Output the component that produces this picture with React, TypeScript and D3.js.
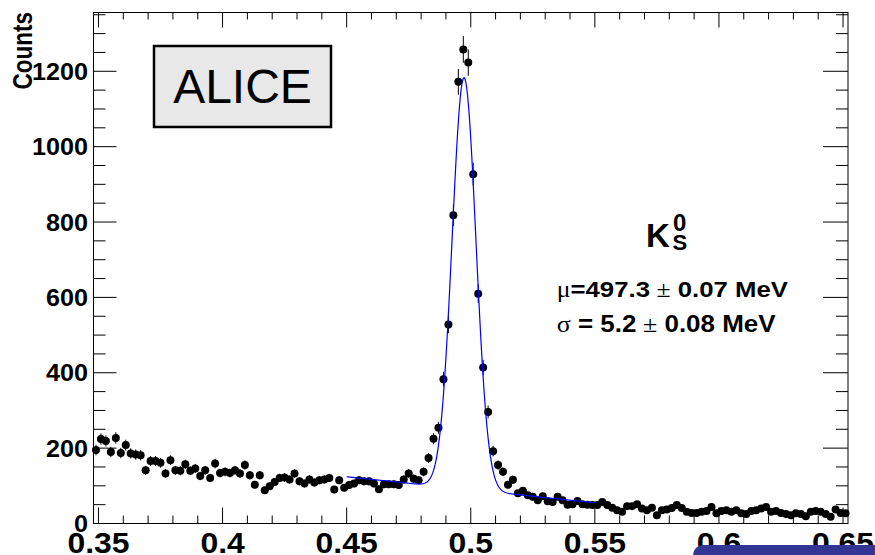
import React from 'react';
import * as d3 from 'd3';

// Histogram: K0s invariant mass, 2 MeV bins from 0.348 to 0.652 GeV
const BIN_LO = 0.348;
const BIN_W = 0.002;
const COUNTS: number[] = [
  195, 224, 219, 190, 227, 187, 208, 186, 183, 181, 141, 166, 166, 161, 133, 168, 141, 140, 157, 140,
  146, 126, 141, 121, 159, 134, 137, 134, 141, 133, 155, 128, 103, 128, 88, 99, 110, 121,
  122, 117, 133, 112, 106, 117, 109, 115, 117, 121, 90, 115, 95, 102, 106, 115, 112, 112, 106, 91,
  104, 104, 104, 102, 117, 133, 119, 115, 137, 174, 225, 254,
  383, 528, 818, 1172, 1258, 1223, 927, 610, 414, 296,
  192, 155, 137, 103, 116, 80, 87, 75, 71, 62, 72, 59, 57, 71, 62, 50, 51, 60, 51, 50,
  49, 49, 57, 49, 42, 35, 31, 46, 46, 51, 40, 35, 42, 22, 35,
  37, 41, 49, 41, 31, 28, 28, 31, 33, 44, 27, 33, 35, 31, 35, 27, 25, 33, 35, 40,
  44, 31, 33, 28, 25, 22, 27, 25, 19, 31, 33, 31, 25, 18, 37, 28, 27,
];

// Fit: Gaussian on a linear background, drawn over the fit range
const FIT_RANGE = [0.45, 0.55];
const FIT_MU = 0.4973;
const FIT_SIGMA = 0.0048;
const FIT_AMP = 1092;
const BG_AT_START = 124;
const BG_SLOPE = -690;

const X_DOMAIN = [0.348, 0.652];
const Y_DOMAIN = [0, 1356];
const X_TICKS = [0.35, 0.4, 0.45, 0.5, 0.55, 0.6, 0.65];
const X_TICK_LABELS = ['0.35', '0.4', '0.45', '0.5', '0.55', '0.6', '0.65'];
const X_MINOR_STEP = 0.01;
const Y_TICKS = [0, 200, 400, 600, 800, 1000, 1200];
const Y_TICK_LABELS = ['0', '200', '400', '600', '800', '1000', '1200'];
const Y_MINOR_STEP = 50;

const Y_TITLE = 'Counts';
const EXPERIMENT = 'ALICE';
const MU_VALUE = '=497.3';
const MU_ERR = ' 0.07 MeV';
const SIGMA_VALUE = ' = 5.2';
const SIGMA_ERR = ' 0.08 MeV';

const SANS = '"Liberation Sans", Arial, Helvetica, sans-serif';
const SERIF = '"Liberation Serif", "DejaVu Serif", serif';

export default function App() {
  const L = 93.5, R = 848, T = 12.5, B = 523.5;
  const x = d3.scaleLinear().domain(X_DOMAIN).range([L, R]);
  const y = d3.scaleLinear().domain(Y_DOMAIN).range([B, T]);

  const xMinor = d3.range(0.35, 0.6501, X_MINOR_STEP).filter(
    (v) => !X_TICKS.some((t) => Math.abs(t - v) < 1e-6)
  );
  const yMinor = d3.range(0, Y_DOMAIN[1], Y_MINOR_STEP).filter((v) => v % 200 !== 0);

  const bg = (m: number) => BG_AT_START + BG_SLOPE * (m - FIT_RANGE[0]);
  const fit = (m: number) =>
    bg(m) + FIT_AMP * Math.exp(-((m - FIT_MU) ** 2) / (2 * FIT_SIGMA ** 2));
  const fitXs = d3.range(FIT_RANGE[0], FIT_RANGE[1] + 1e-9, (FIT_RANGE[1] - FIT_RANGE[0]) / 300);
  const fitPath = d3
    .line<number>()
    .x((m) => x(m))
    .y((m) => y(fit(m)))(fitXs) as string;

  const points = COUNTS.map((c, i) => ({ m: BIN_LO + BIN_W * (i + 0.5), c, e: Math.sqrt(c) }));

  return (
    <svg
      width={875}
      height={555}
      style={{ position: 'absolute', left: 0, top: 0, background: '#fff' }}
    >
      <rect x={0} y={0} width={875} height={555} fill="#fff" />

      {/* data */}
      <g>
        {points.map((p, i) => (
          <g key={i}>
            <line x1={x(p.m)} x2={x(p.m)} y1={y(p.c - p.e)} y2={y(p.c + p.e)} stroke="#000" strokeWidth={1} />
            <line x1={x(p.m - BIN_W / 2)} x2={x(p.m + BIN_W / 2)} y1={y(p.c)} y2={y(p.c)} stroke="#000" strokeWidth={1} />
            <circle cx={x(p.m)} cy={y(p.c)} r={4} fill="#000" />
          </g>
        ))}
      </g>

      {/* fit */}
      <path d={fitPath} fill="none" stroke="#0000ff" strokeWidth={1.2} />

      {/* frame */}
      <rect x={L} y={T} width={R - L} height={B - T} fill="none" stroke="#000" strokeWidth={1} />

      {/* x ticks */}
      {X_TICKS.map((t) => (
        <g key={'xt' + t}>
          <line x1={x(t)} x2={x(t)} y1={B} y2={B - 16} stroke="#000" />
          <line x1={x(t)} x2={x(t)} y1={T} y2={T + 15} stroke="#000" />
        </g>
      ))}
      {xMinor.map((t) => (
        <g key={'xm' + t}>
          <line x1={x(t)} x2={x(t)} y1={B} y2={B - 8} stroke="#000" />
          <line x1={x(t)} x2={x(t)} y1={T} y2={T + 7} stroke="#000" />
        </g>
      ))}
      {/* y ticks */}
      {Y_TICKS.map((t) => (
        <g key={'yt' + t}>
          <line x1={L} x2={L + 23} y1={y(t)} y2={y(t)} stroke="#000" />
          <line x1={R} x2={R - 25} y1={y(t)} y2={y(t)} stroke="#000" />
        </g>
      ))}
      {yMinor.map((t) => (
        <g key={'ym' + t}>
          <line x1={L} x2={L + 12} y1={y(t)} y2={y(t)} stroke="#000" />
          <line x1={R} x2={R - 12} y1={y(t)} y2={y(t)} stroke="#000" />
        </g>
      ))}

      {/* y tick labels */}
      {Y_TICKS.map((t, i) => (
        <text
          key={'yl' + t}
          transform={`translate(88,${y(t)}) scale(1.05,1)`}
          dy="0.36em"
          textAnchor="end"
          fontFamily={SANS}
          fontWeight="bold"
          fontSize={24}
          fill="#000"
        >
          {Y_TICK_LABELS[i]}
        </text>
      ))}

      {/* x tick labels */}
      {X_TICKS.map((t, i) => (
        <text
          key={'xl' + t}
          transform={`translate(${x(t)},552.5) scale(1.1,1)`}
          textAnchor="middle"
          fontFamily={SANS}
          fontWeight="bold"
          fontSize={29}
          fill="#000"
        >
          {X_TICK_LABELS[i]}
        </text>
      ))}

      {/* y title */}
      <text
        transform="translate(31.5,12) scale(1.2,1) rotate(-90)"
        textAnchor="end"
        fontFamily={SANS}
        fontWeight="bold"
        fontSize={22.5}
        fill="#000"
      >
        {Y_TITLE}
      </text>

      {/* ALICE box */}
      <rect x={154} y={46} width={177} height={81} fill="#e8e8e8" stroke="#000" strokeWidth={2.5} />
      <text x={242.5} y={103} textAnchor="middle" fontFamily={SANS} fontSize={48} fill="#000">
        {EXPERIMENT}
      </text>

      {/* K0s label */}
      <text x={646} y={246.7} fontFamily={SANS} fontWeight="bold" fontSize={33} fill="#000">K</text>
      <text x={673} y={230.7} fontFamily={SANS} fontWeight="bold" fontSize={24} fill="#000">0</text>
      <text x={672.5} y={250} fontFamily={SANS} fontWeight="bold" fontSize={22} fill="#000">S</text>

      {/* fit results */}
      <text transform="translate(556.7,296.7) scale(1.12,1)" fontFamily={SANS} fontSize={23} fill="#000">
        <tspan fontFamily={SERIF}>μ</tspan>
        <tspan fontWeight="bold">{MU_VALUE}</tspan>
        <tspan fontFamily={SERIF}> ±</tspan>
        <tspan fontWeight="bold">{MU_ERR}</tspan>
      </text>
      <text transform="translate(556.7,331.7) scale(1.13,1)" fontFamily={SANS} fontSize={23} fill="#000">
        <tspan fontFamily={SERIF}>σ</tspan>
        <tspan fontWeight="bold">{SIGMA_VALUE}</tspan>
        <tspan fontFamily={SERIF}> ±</tspan>
        <tspan fontWeight="bold">{SIGMA_ERR}</tspan>
      </text>

      {/* blue corner panel */}
      <rect x={693} y={545} width={220} height={40} rx={10} fill="#323591" />
    </svg>
  );
}
